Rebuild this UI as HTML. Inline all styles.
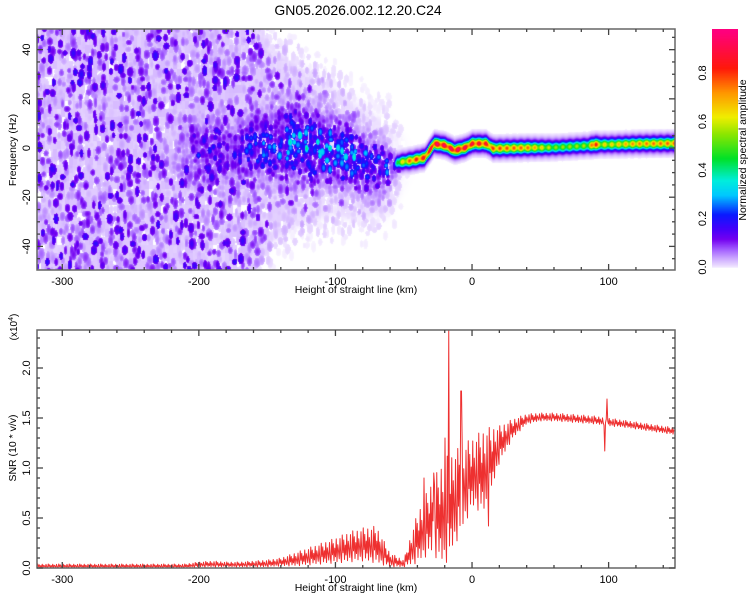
<!DOCTYPE html>
<html><head><meta charset="utf-8"><style>
html,body{margin:0;padding:0;background:#fff;}
#wrap{position:relative;width:750px;height:600px;overflow:hidden;font-family:"Liberation Sans",sans-serif;}
canvas{position:absolute;}
svg{position:absolute;left:0;top:0;}
</style></head><body>
<div id="wrap">
<canvas id="heat" width="638" height="241" style="left:37px;top:29px"></canvas>
<canvas id="cbar" width="26" height="239" style="left:712px;top:29px"></canvas>
<svg id="ov" width="750" height="600" xmlns="http://www.w3.org/2000/svg"><g id="heatg"></g></svg>
</div>
<script>
// ---------- data ----------
const xMin = -318.5, xMax = 148.6;
const fMin = -49.6, fMax = 48.4;
const snrMin = 0, snrMax = 2.38;
const xTicks = [-300, -200, -100, 0, 100];
const fTicks = [-40, -20, 0, 20, 40];
const snrTicks = [0.0, 0.5, 1.0, 1.5, 2.0];
const cbTicks = [0.0, 0.2, 0.4, 0.6, 0.8];
// background noise density vs height
const bgH = [-320, -170, -150, -120, -100, -80, -60, -50, -40];
const bgDens = [1.0, 1.0, 0.8, 0.65, 0.55, 0.45, 0.3, 0.05, 0];
const bgExt = [60, 60, 36, 26, 22, 19, 15, 8, 0];
// broad cluster around ridge (pre-onset)
const clH = [-320, -220, -200, -180, -150, -130, -100, -80, -65, -55, -50];
const clA = [0, 0.05, 0.26, 0.2, 0.32, 0.42, 0.4, 0.38, 0.35, 0.2, 0];
const clC = [-3, -3, -3, -1, 1, 2, -1.6, -6, -7.7, -7, -6];
const clW = [12, 12, 13, 12, 14, 14, 13, 11, 9, 6, 4];
// narrow ridge
const rgH = [-58, -55, -45, -35, -28, -20, -13, -5, 0, 10, 15, 40, 60, 85, 90, 92, 100, 120, 150];
const rgF = [-6.5, -5.7, -4.9, -3.7, 2, 1.2, -0.8, 0.4, 2, 2, 0, 0.3, 0.4, 1.2, 1.6, 1.6, 1.6, 1.9, 2.1];
const rgA = [0, 0.5, 0.72, 0.8, 0.88, 0.86, 0.88, 0.85, 0.82, 0.8, 0.72, 0.68, 0.5, 0.52, 0.9, 0.6, 0.58, 0.66, 0.7];
// SNR (x10^4) envelope per 10 km
const snrH = [-320,-310,-300,-290,-280,-270,-260,-250,-240,-230,-220,-210,-200,-190,-180,-170,-160,-150,-140,-130,-120,-110,-100,-90,-80,-70,-60,-50,-40,-30,-20,-10,0,10,20,30,40,50,60,70,80,90,100,110,120,130,140,150];
const snrLo = [0.00,0.00,0.00,0.00,0.00,0.00,0.00,0.00,0.00,0.00,0.00,0.00,0.01,0.01,0.01,0.01,0.01,0.01,0.02,0.02,0.03,0.04,0.05,0.06,0.07,0.05,0.01,0.01,0.05,0.15,0.02,0.3,0.6,0.55,1.05,1.30,1.44,1.47,1.47,1.46,1.45,1.44,1.42,1.41,1.39,1.37,1.35,1.33];
const snrHi = [0.04,0.04,0.04,0.04,0.04,0.04,0.04,0.04,0.04,0.04,0.04,0.04,0.06,0.07,0.06,0.06,0.07,0.08,0.10,0.15,0.20,0.25,0.30,0.36,0.40,0.42,0.15,0.08,0.55,0.85,1.1,1.2,1.3,1.40,1.42,1.49,1.54,1.55,1.55,1.54,1.53,1.52,1.50,1.48,1.46,1.44,1.42,1.40];
const spikeH = [-35, -28, -20, -17, -8, 12, 97, 99];
const spikeV = [0.9, 0.95, 1.3, 2.4, 1.77, 0.42, 1.17, 1.69];

// ---------- geometry ----------
const T = {l:37, r:675, t:29, b:270};
const B = {l:37, r:675, t:330, b:568};
function xs(h, P) { return P.l + (h - xMin) / (xMax - xMin) * (P.r - P.l); }
function ysF(f) { return T.b - (f - fMin) / (fMax - fMin) * (T.b - T.t); }
function ysS(v) { return B.b - (v - snrMin) / (snrMax - snrMin) * (B.b - B.t); }
function interp(xa, ya, x) {
  if (!(x > xa[0])) return ya[0];
  if (x >= xa[xa.length-1]) return ya[ya.length-1];
  for (var i = 1; i < xa.length; i++) if (x <= xa[i]) {
    var t = (x - xa[i-1]) / (xa[i] - xa[i-1]); return ya[i-1] + t*(ya[i]-ya[i-1]);
  }
  return ya[ya.length-1];
}
function hash(i, j, k) {
  var n = Math.imul(i, 374761393) ^ Math.imul(j, 668265263) ^ Math.imul(k, 1442695041);
  n = Math.imul(n ^ (n >>> 13), 1274126177);
  return ((n ^ (n >>> 16)) >>> 0) / 4294967296;
}
// ---------- colormap ----------
const cs = [[0,255,255,255],[0.008,238,226,255],[0.04,205,170,255],[0.08,160,90,255],[0.12,115,0,240],[0.16,70,0,250],[0.22,10,25,255],[0.3,0,200,255],[0.36,0,238,220],[0.45,0,225,40],[0.55,140,230,0],[0.62,240,238,0],[0.72,255,150,0],[0.82,255,25,10],[0.97,255,0,125]];
function cmap(v) {
  if (!(v > 0)) return [255,255,255];
  for (var i = 1; i < cs.length; i++) if (v <= cs[i][0]) {
    var t = (v - cs[i-1][0]) / (cs[i][0] - cs[i-1][0]);
    return [0,1,2].map(function(k){ return Math.round(cs[i-1][k+1] + t*(cs[i][k+1]-cs[i-1][k+1])); });
  }
  return cs[cs.length-1].slice(1);
}
const NS = 'http://www.w3.org/2000/svg';
const svg = document.getElementById('ov');
function el(tag, attrs, parent) {
  var e = document.createElementNS(NS, tag);
  for (var k in attrs) e.setAttribute(k, attrs[k]);
  (parent || svg).appendChild(e); return e;
}
// ---------- heatmap field ----------
const HW = 638, HH = 241;
const field = new Float32Array(HW*HH);
function buildField() {
  function put(x, y, v) { if (x>=0&&x<HW&&y>=0&&y<HH){var k=y*HW+x; if (v>field[k]) field[k]=v;} }
  function hOf(px) { return xMin + px/HW*(xMax-xMin); }
  function fOf(py) { return fMax - py/HH*(fMax-fMin); }
  function blob(cx, cy, rx, ry, a) {
    for (var y = Math.floor(cy-ry); y <= cy+ry; y++) for (var x = Math.floor(cx-rx); x <= cx+rx; x++) {
      var d = ((x-cx)/rx)*((x-cx)/rx) + ((y-cy)/ry)*((y-cy)/ry);
      if (d < 1) put(x, y, a*Math.sqrt(1-d*0.6));
    }
  }
  var i, j;
  for (var px = 0; px < HW; px++) {
    var hb = hOf(px);
    var db = interp(bgH, bgDens, hb), eb = interp(bgH, bgExt, hb), cb0 = interp(clH, clC, hb);
    if (db <= 0) continue;
    for (var py = 0; py < HH; py++) {
      var dd = Math.abs(fOf(py) - cb0);
      var fb = dd < eb ? 1 : Math.exp(-Math.pow((dd-eb)/4, 2));
      var hv = hash(px >> 2, py >> 3, 21);
      if (hv < 0.12) continue;
      put(px, py, db*fb*(0.012 + 0.02*hv));
    }
  }
  var sx = 4, sy = 6;
  for (i = -1; i < HW/sx+1; i++) for (j = -1; j < HH/sy+1; j++) {
    var cx = i*sx + hash(i,j,1)*4, cy = j*sy + hash(i,j,2)*6;
    var h = hOf(cx), f = fOf(cy);
    var dens = interp(bgH, bgDens, h), ext = interp(bgH, bgExt, h);
    var c = interp(clH, clC, h);
    var dist = Math.abs(f - c);
    var fac = dist < ext ? 1 : 0.5*Math.exp(-Math.pow((dist-ext)/10, 2));
    if (hash(i,j,9) < 0.15) fac = 0;
    var r1 = hash(i,j,3);
    var a = dens*fac*(0.02 + 0.17*Math.pow(r1, 2.5));
    if (a > 0.004) blob(cx, cy, 1.8+hash(i,j,4)*1.6, 2.8+hash(i,j,5)*3, a);
  }
  var sx2 = 4, sy2 = 5;
  for (i = 0; i < HW/sx2; i++) for (j = 0; j < HH/sy2; j++) {
    var cx2 = i*sx2 + hash(i,j,11)*3, cy2 = j*sy2 + hash(i,j,12)*4;
    var h2 = hOf(cx2), f2 = fOf(cy2);
    var A = interp(clH, clA, h2); if (A <= 0) continue;
    var c2 = interp(clH, clC, h2), w = interp(clH, clW, h2);
    var g = Math.exp(-Math.pow((f2-c2)/w, 2));
    var r = hash(i,j,13);
    var a2 = A*g*(0.35 + 0.65*r*r);
    if (a2 > 0.03) blob(cx2, cy2, 1.9+hash(i,j,14), 2.6+hash(i,j,15)*2.2, a2);
  }
  for (var x = 0; x < HW; x++) {
    var hh = hOf(x);
    if (hh < rgH[0]) continue;
    var cc = interp(rgH, rgF, hh);
    var AA = interp(rgH, rgA, hh) * (0.88 + 0.12*Math.sin(x*0.9));
    for (var y = 0; y < HH; y++) {
      var d = Math.abs(fOf(y) - cc);
      var v = AA*Math.exp(-(d/2.0)*(d/2.0)) + Math.min(0.1, AA*0.14)*Math.exp(-Math.pow(d/4.5, 4));
      if (v > 0.004) put(x, y, v);
    }
  }
}
try { buildField(); } catch (e) {}
(function(){
  var ok = false;
  try {
    var cvs = document.getElementById('heat');
    var ctx = cvs.getContext && cvs.getContext('2d');
    if (ctx) {
      var img = ctx.createImageData(HW, HH);
      for (var k = 0; k < HW*HH; k++) {
        var c = cmap(field[k]);
        img.data[k*4] = c[0]; img.data[k*4+1] = c[1]; img.data[k*4+2] = c[2]; img.data[k*4+3] = 255;
      }
      ctx.putImageData(img, 0, 0);
      var cb = document.getElementById('cbar').getContext('2d');
      for (var y = 0; y < 239; y++) {
        var cc = cmap(0.98 - y/239*0.98);
        cb.fillStyle = 'rgb(' + cc[0] + ',' + cc[1] + ',' + cc[2] + ')';
        cb.fillRect(0, y, 26, 1);
      }
      ok = true;
    }
  } catch (e) { ok = false; }
  if (!ok) {
    var g = document.getElementById('heatg');
    var q = function(v){ return Math.round(Math.min(v, 0.98) * 60); };
    for (var yy = 0; yy < HH; yy += 2) {
      var x0 = 0, cur = q(field[yy*HW]);
      for (var xx = 1; xx <= HW; xx++) {
        var nv = xx < HW ? q(field[yy*HW + xx]) : -1;
        if (nv !== cur) {
          if (cur > 0) {
            var col = cmap(cur/60);
            el('rect', {x:37+x0, y:29+yy, width:xx-x0, height:2, fill:'rgb(' + col.join(',') + ')'}, g);
          }
          x0 = xx; cur = nv;
        }
      }
    }
    for (var y2 = 0; y2 < 239; y2 += 2) {
      var c3 = cmap(0.98 - y2/239*0.98);
      el('rect', {x:712, y:29+y2, width:26, height:2, fill:'rgb(' + c3.join(',') + ')'}, g);
    }
  }
})();
// ---------- SVG overlay ----------
function txt(s, x, y, size, rot, anchor) {
  var t = el('text', {x:x, y:y, 'font-size':size, 'text-anchor':anchor||'middle', fill:'#000', 'font-family':'Liberation Sans, sans-serif'});
  if (rot) t.setAttribute('transform', 'rotate(-90 ' + x + ' ' + y + ')');
  t.textContent = s; return t;
}
(function(){
  var pat = [0, 1, 0.35, 0.8, 0.1, 0.6, 0.25, 0.95, 0.05, 0.7, 0.45, 0.15, 0.9, 0.3];
  var d = '', n = 0;
  for (var px = B.l; px <= B.r; px += 0.75) {
    var h = xMin + (px - B.l)/(B.r - B.l)*(xMax - xMin);
    var lo = interp(snrH, snrLo, h), hi = interp(snrH, snrHi, h);
    var v = lo + (hi - lo)*pat[n % pat.length];
    for (var s = 0; s < spikeH.length; s++) if (Math.abs(h - spikeH[s]) < 0.3) v = spikeV[s];
    var y = Math.max(B.t, ysS(v));
    d += (n ? 'L' : 'M') + px.toFixed(2) + ' ' + y.toFixed(2);
    n++;
  }
  var p = el('path', {d:d, fill:'none', stroke:'#ee3030', 'stroke-width':1, 'stroke-linejoin':'round'});
  
  
})();
function frame(P, name) {
  var r = el('rect', {x:P.l, y:P.t, width:P.r-P.l, height:P.b-P.t, fill:'none', stroke:'#666', 'stroke-width':1.5});
  
  
  for (var h = -320; h <= 140; h += 20) {
    var x = xs(h, P); if (x < P.l || x > P.r) continue;
    var L = (h % 100 === 0) ? 6 : 3;
    el('line', {x1:x, x2:x, y1:P.t, y2:P.t+L, stroke:'#444', 'stroke-width':1.3});
    el('line', {x1:x, x2:x, y1:P.b, y2:P.b-L, stroke:'#444', 'stroke-width':1.3});
  }
  xTicks.forEach(function(hv) {
    var t = txt(String(hv), xs(hv, P), P.b + 15, 11);
    
    
  });
  var at = txt('Height of straight line (km)', 356, P.b + 23, 10.5);
  
  
}
frame(T, 'top-plot-frame');
frame(B, 'bottom-plot-frame');
for (var f = -45; f <= 45; f += 5) {
  var yy = ysF(f), LL = (f % 20 === 0) ? 6 : 3;
  el('line', {x1:T.l, x2:T.l+LL, y1:yy, y2:yy, stroke:'#444', 'stroke-width':1.3});
  el('line', {x1:T.r, x2:T.r-LL, y1:yy, y2:yy, stroke:'#444', 'stroke-width':1.3});
}
fTicks.forEach(function(fv) {
  var t = txt(String(fv), 30, ysF(fv), 11, true);
  
  
});
var yt = txt('Frequency (Hz)', 16, 150, 10.5, true);


for (var m = 0; m <= 23; m++) {
  var yb = ysS(m/10), Lb = (m % 5 === 0) ? 6 : 3;
  el('line', {x1:B.l, x2:B.l+Lb, y1:yb, y2:yb, stroke:'#444', 'stroke-width':1.3});
  el('line', {x1:B.r, x2:B.r-Lb, y1:yb, y2:yb, stroke:'#444', 'stroke-width':1.3});
}
snrTicks.forEach(function(sv) {
  var t = txt(sv.toFixed(1), 30, ysS(sv), 11, true);
  
  
});
yt = txt('SNR (10 * v/v)', 16, 448, 10.5, true);


var sc = el('text', {x:17, y:327, 'font-size':10, 'text-anchor':'middle', transform:'rotate(-90 17 327)', 'font-family':'Liberation Sans, sans-serif'});


var t1 = el('tspan', {}, sc); t1.textContent = '(x10';
var t2 = el('tspan', {dy:-4, 'font-size':7}, sc); t2.textContent = '4';
var t3 = el('tspan', {dy:4}, sc); t3.textContent = ')';
cbTicks.forEach(function(cv) {
  var t = txt(cv.toFixed(1), 706, 267 - cv/0.2*48.5, 11, true);
  
  
});
var cbt = txt('Normalized spectral amplitude', 746, 150, 10.5, true);


var ti = txt('GN05.2026.002.12.20.C24', 358, 15, 14);


</script>
</body></html>
